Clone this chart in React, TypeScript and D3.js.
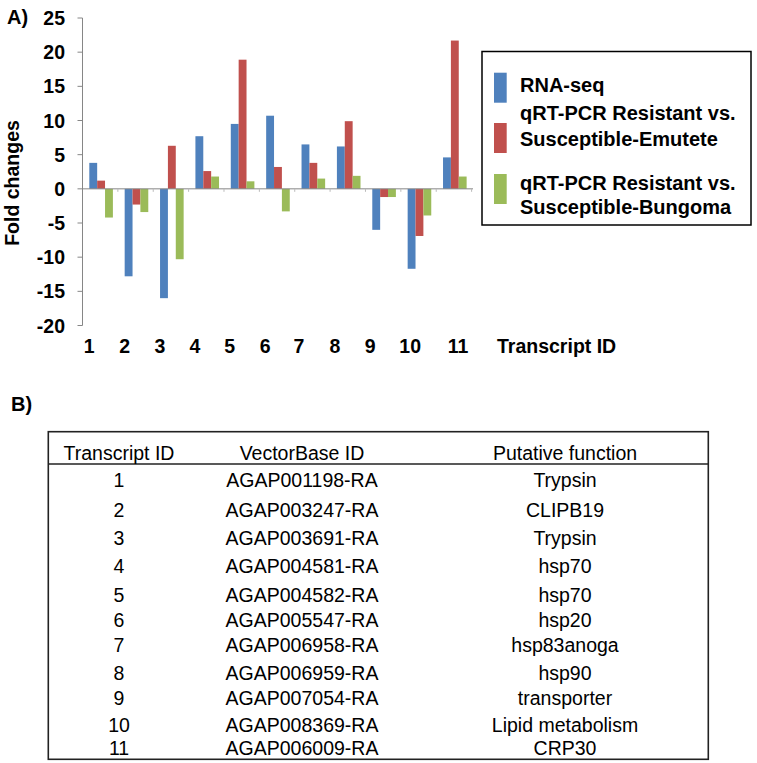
import React from "react";
import * as d3 from "d3";

const categories = ["1", "2", "3", "4", "5", "6", "7", "8", "9", "10", "11"];
const seriesNames = ["RNA-seq", "qRT-PCR Emutete", "qRT-PCR Bungoma"];
const rnaSeq = [3.8, -12.8, -16.0, 7.7, 9.5, 10.7, 6.5, 6.2, -6.0, -11.7, 4.6];
const qpcrEmutete = [1.2, -2.3, 6.3, 2.6, 18.9, 3.2, 3.8, 9.9, -1.2, -6.9, 21.7];
const qpcrBungoma = [-4.2, -3.4, -10.3, 1.8, 1.1, -3.3, 1.5, 1.9, -1.2, -3.9, 1.8];
const yTicks = [25, 20, 15, 10, 5, 0, -5, -10, -15, -20];
const legendLabels = [
  ["RNA-seq"],
  ["qRT-PCR Resistant vs.", "Susceptible-Emutete"],
  ["qRT-PCR Resistant vs.", "Susceptible-Bungoma"],
];
const tableHeader = ["Transcript ID", "VectorBase ID", "Putative function"];
const vectorBaseIds = [
  "AGAP001198-RA", "AGAP003247-RA", "AGAP003691-RA", "AGAP004581-RA",
  "AGAP004582-RA", "AGAP005547-RA", "AGAP006958-RA", "AGAP006959-RA",
  "AGAP007054-RA", "AGAP008369-RA", "AGAP006009-RA",
];
const putativeFunctions = [
  "Trypsin", "CLIPB19", "Trypsin", "hsp70", "hsp70", "hsp20",
  "hsp83anoga", "hsp90", "transporter", "Lipid metabolism", "CRP30",
];

// layout / style constants
const COLORS = ["#4F81BD", "#C0504D", "#9BBB59"];
const FONT = "'Liberation Sans', Arial, Helvetica, sans-serif";
const labelNudge = [0, 0, 0, -0.5, -1, -1, -2.5, -2, -2, 2.5, 15];
const tableRowBaselines = [487, 516.5, 545, 573, 601.5, 627, 652, 680, 705, 732, 755];
const tableColCenters = [119, 302, 565];

export default function App() {
  const series = [rnaSeq, qpcrEmutete, qpcrBungoma];
  const y = d3.scaleLinear().domain([-20, 25]).range([325.5, 18]);
  const x0 = d3.scaleBand<string>().domain(categories).range([82.5, 471.6]).paddingInner(0).paddingOuter(0);
  const x1 = d3.scaleBand<string>().domain(seriesNames).range([6.8, 30.4]).padding(0);
  const axisX = 82.5;
  const axisColor = "#868686";

  return (
    <svg
      width={757}
      height={763}
      style={{ position: "absolute", left: 0, top: 0, background: "#fff" }}
      fontFamily={FONT}
    >
      <rect x={0} y={0} width={757} height={763} fill="#fff" />
      {/* Panel A label */}
      <text x={7} y={24} fontSize={20} fontWeight="bold" fill="#000">A)</text>

      {/* Bars */}
      {categories.map((c, i) => (
        <g key={c} transform={`translate(${x0(c)},0)`}>
          {series.map((s, j) => {
            const v = s[i];
            const y0 = y(0);
            const yv = y(v);
            return (
              <rect
                key={j}
                x={x1(seriesNames[j])}
                y={Math.min(y0, yv)}
                width={x1.bandwidth()}
                height={Math.abs(yv - y0)}
                fill={COLORS[j]}
              />
            );
          })}
        </g>
      ))}

      {/* Zero line with category ticks */}
      <line x1={axisX} x2={473} y1={y(0)} y2={y(0)} stroke={axisColor} strokeWidth={1} />
      {categories.map((c) => (
        <line key={"ct" + c} x1={(x0(c) as number) + x0.bandwidth()} x2={(x0(c) as number) + x0.bandwidth()} y1={y(0)} y2={y(0) + 3} stroke="#bbb" strokeWidth={1} />
      ))}

      {/* Y axis */}
      <line x1={axisX} x2={axisX} y1={y(25)} y2={y(-20)} stroke={axisColor} strokeWidth={1} />
      {yTicks.map((t) => (
        <g key={t}>
          <line x1={axisX - 5} x2={axisX} y1={y(t)} y2={y(t)} stroke={axisColor} strokeWidth={1} />
          <text x={65} y={y(t)} dy="0.36em" textAnchor="end" fontSize={19.5} fontWeight="bold" fill="#000">
            {t}
          </text>
        </g>
      ))}
      <text
        transform={`translate(19,183) rotate(-90)`}
        textAnchor="middle"
        fontSize={19.5}
        fontWeight="bold"
        fill="#000"
      >
        Fold changes
      </text>

      {/* X labels */}
      {categories.map((c, i) => (
        <text
          key={"xl" + c}
          x={(x0(c) as number) + (x1(seriesNames[0]) as number) + labelNudge[i]}
          y={353}
          textAnchor="middle"
          fontSize={19.5}
          fontWeight="bold"
          fill="#000"
        >
          {c}
        </text>
      ))}
      <text x={497} y={353} fontSize={19.5} fontWeight="bold" fill="#000">Transcript ID</text>

      {/* Legend */}
      <rect x={482} y={51.5} width={269} height={173.5} fill="#fff" stroke="#000" strokeWidth={1.5} />
      {legendLabels.map((lines, j) => {
        const swY = [72.7, 123, 174][j];
        const baselines = [[91.7], [120, 145.5], [190, 213.5]][j];
        return (
          <g key={"lg" + j}>
            <rect x={494} y={swY} width={12.7} height={30} fill={COLORS[j]} />
            {lines.map((ln, k) => (
              <text key={k} x={520} y={baselines[k]} fontSize={20} fontWeight="bold" fill="#000">
                {ln}
              </text>
            ))}
          </g>
        );
      })}

      {/* Panel B */}
      <text x={11} y={411} fontSize={20} fontWeight="bold" fill="#000">B)</text>
      <rect x={48.3} y={431.7} width={660} height={327.6} fill="none" stroke="#222" strokeWidth={1.6} />
      <line x1={48.3} x2={708.3} y1={464} y2={464} stroke="#222" strokeWidth={1.4} />
      {tableHeader.map((h, k) => (
        <text key={"th" + k} x={tableColCenters[k]} y={459.5} textAnchor="middle" fontSize={19.5} fill="#000">
          {h}
        </text>
      ))}
      {categories.map((c, i) => (
        <g key={"tr" + c}>
          <text x={tableColCenters[0]} y={tableRowBaselines[i]} textAnchor="middle" fontSize={19.5} fill="#000">{c}</text>
          <text x={tableColCenters[1]} y={tableRowBaselines[i]} textAnchor="middle" fontSize={19.5} fill="#000">{vectorBaseIds[i]}</text>
          <text x={tableColCenters[2]} y={tableRowBaselines[i]} textAnchor="middle" fontSize={19.5} fill="#000">{putativeFunctions[i]}</text>
        </g>
      ))}
    </svg>
  );
}
